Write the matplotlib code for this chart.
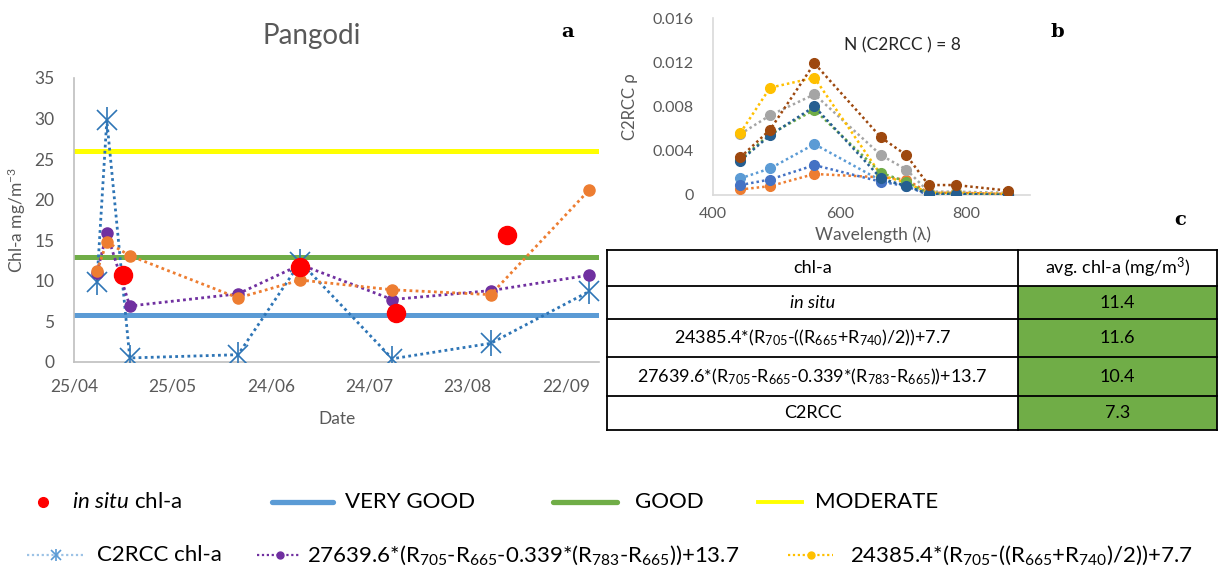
import matplotlib
matplotlib.use("Agg")
import matplotlib.pyplot as plt
import matplotlib.dates as mdates
from matplotlib.lines import Line2D
import numpy as np
import datetime as dt

plt.rcParams['font.family'] = ['Lato', 'DejaVu Sans']
plt.rcParams['mathtext.fontset'] = 'custom'
plt.rcParams['mathtext.rm'] = 'Lato'
plt.rcParams['mathtext.it'] = 'Lato:italic'
plt.rcParams['mathtext.bf'] = 'Lato:bold'

# ---------------- data: panel a ----------------
c2rcc_dates = ['2018-05-02', '2018-05-05', '2018-05-12', '2018-06-14',
               '2018-07-03', '2018-07-31', '2018-08-30', '2018-09-29']
c2rcc_chl = [9.9, 29.8, 0.5, 0.9, 12.3, 0.4, 2.3, 8.7]
alg2_chl = [11.0, 15.9, 6.9, 8.4, 12.0, 7.7, 8.8, 10.7]    # 27639.6*(...)+13.7
alg1_chl = [11.2, 14.8, 13.1, 7.9, 10.1, 8.9, 8.3, 21.2]   # 24385.4*(...)+7.7
insitu_dates = ['2018-05-10', '2018-07-03', '2018-08-01', '2018-09-04']
insitu_chl = [10.7, 11.7, 6.1, 15.7]
thr_very_good = 5.8
thr_good = 13.0
thr_moderate = 26.0
xtick_dates = ['2018-04-25', '2018-05-25', '2018-06-24', '2018-07-24', '2018-08-23', '2018-09-22']

# ---------------- data: panel b ----------------
wavelengths = [443, 490, 560, 665, 705, 740, 783, 865]
spec1 = [0.0015, 0.0024, 0.0046, 0.0013, 0.0009, 0.0001, 0.0001, 0.0000]
spec2 = [0.0005, 0.0008, 0.0019, 0.0016, 0.0014, 0.0002, 0.0002, 0.0001]
spec3 = [0.0055, 0.0072, 0.0091, 0.0036, 0.0023, 0.0003, 0.0003, 0.0002]
spec4 = [0.0056, 0.0097, 0.0106, 0.0018, 0.0011, 0.0002, 0.0002, 0.0001]
spec5 = [0.0009, 0.0014, 0.0027, 0.0012, 0.0008, 0.0000, 0.0000, 0.0000]
spec6 = [0.0032, 0.0055, 0.0077, 0.0020, 0.0012, 0.0001, 0.0001, 0.0000]
spec7 = [0.0031, 0.0054, 0.0080, 0.0015, 0.0008, 0.0001, 0.0001, 0.0000]
spec8 = [0.0034, 0.0059, 0.0119, 0.0052, 0.0036, 0.0009, 0.0009, 0.0004]
spec_colors = ['#5B9BD5', '#ED7D31', '#A5A5A5', '#FFC000',
               '#4472C4', '#70AD47', '#255E91', '#9E480E']

# ---------------- data: table c ----------------
f1 = r'24385.4*(R$_{705}$-((R$_{665}$+R$_{740}$)/2))+7.7'
f2 = r'27639.6*(R$_{705}$-R$_{665}$-0.339*(R$_{783}$-R$_{665}$))+13.7'
table_header = ['chl-a', r'avg. chl-a (mg/m$^{3}$)']
table_rows = ['in situ', f1, f2, 'C2RCC']
table_vals = ['11.4', '11.6', '10.4', '7.3']

GRAY = '#595959'
W, H = 1230, 572
fig = plt.figure(figsize=(W / 100, H / 100), dpi=100)


def fr(x0, y0, x1, y1):
    return [x0 / W, 1 - y1 / H, (x1 - x0) / W, (y1 - y0) / H]


# ---------------- panel a ----------------
ax = fig.add_axes(fr(74, 78, 599, 362))
to_dt = lambda s: dt.datetime.strptime(s, '%Y-%m-%d')
cd = [to_dt(s) for s in c2rcc_dates]
idd = [to_dt(s) for s in insitu_dates]
ax.axhline(thr_moderate, color='#FFFF00', lw=3.6, zorder=1)
ax.axhline(thr_good, color='#70AD47', lw=3.6, zorder=1)
ax.axhline(thr_very_good, color='#5B9BD5', lw=3.6, zorder=1)
dot = (0, (1, 1.2))
C2C = '#2E75B6'
ax.plot(cd, c2rcc_chl, color=C2C, ls=dot, lw=2, zorder=3)
ax.plot(cd, c2rcc_chl, color=C2C, ls='none', marker='x', ms=14, mew=1.2, zorder=3)
ax.plot(cd, c2rcc_chl, color=C2C, ls='none', marker='|', ms=19, mew=1.2, zorder=3)
ax.plot(cd, alg2_chl, color='#7030A0', ls=dot, lw=2,
        marker='o', ms=8, zorder=3)
ax.plot(cd, alg1_chl, color='#ED7D31', ls=dot, lw=2,
        marker='o', ms=8, zorder=3)
ax.plot(idd, insitu_chl, color='#FF0000', ls='none', marker='o', ms=13, zorder=4)
start = to_dt(xtick_dates[0])
ax.set_xlim(start, start + dt.timedelta(days=160))
ax.set_ylim(0, 35)
ax.set_yticks(np.arange(0, 36, 5))
ax.set_xticks([to_dt(s) for s in xtick_dates])
ax.xaxis.set_major_formatter(mdates.DateFormatter('%d/%m'))
for s in ['top', 'right']:
    ax.spines[s].set_visible(False)
for s in ['left', 'bottom']:
    ax.spines[s].set_color('#BFBFBF')
    ax.spines[s].set_linewidth(1.2)
ax.tick_params(length=0, labelsize=12.5, labelcolor=GRAY)
ax.tick_params(axis='y', pad=14)
ax.tick_params(axis='x', pad=12)
ax.set_xlabel('Date', fontsize=12.5, color=GRAY, labelpad=12)
ax.set_ylabel(r'Chl-a mg/m$^{-3}$', fontsize=12.5, color=GRAY)
ax.yaxis.set_label_coords((28 - 74) / 525, 0.5)
fig.text(312 / W, 1 - 36 / H, 'Pangodi', fontsize=20, color=GRAY, ha='center', va='center')
fig.text(568 / W, 1 - 32 / H, 'a', fontsize=14, fontweight='bold', family='DejaVu Serif',
         ha='center', va='center')

# ---------------- panel b ----------------
bx = fig.add_axes(fr(713, 18, 1030, 195))
for sp, c in zip([spec1, spec2, spec3, spec4, spec5, spec6, spec7, spec8], spec_colors):
    bx.plot(wavelengths, sp, color=c, ls=dot, lw=1.8, marker='o', ms=7, zorder=3)
bx.set_xlim(400, 900)
bx.set_ylim(0, 0.016)
bx.set_xticks([400, 600, 800])
bx.set_yticks([0, 0.004, 0.008, 0.012, 0.016])
bx.set_yticklabels(['0', '0.004', '0.008', '0.012', '0.016'])
for s in ['top', 'right']:
    bx.spines[s].set_visible(False)
for s in ['left', 'bottom']:
    bx.spines[s].set_color('#D9D9D9')
    bx.spines[s].set_linewidth(1.2)
bx.tick_params(length=0, labelsize=11.5, labelcolor=GRAY)
bx.tick_params(axis='y', pad=14)
bx.tick_params(axis='x', pad=9)
bx.set_xlabel('Wavelength (λ)', fontsize=12.5, color=GRAY)
bx.xaxis.set_label_coords((873 - 713) / 317, -(226 - 195) / 177)
bx.set_ylabel('C2RCC ρ', fontsize=12, color=GRAY, labelpad=10)
fig.text(902 / W, 1 - 45 / H, 'N (C2RCC ) = 8', fontsize=12.5, color='#262626',
         ha='center', va='center')
fig.text(1057 / W, 1 - 32 / H, 'b', fontsize=14, fontweight='bold', family='DejaVu Serif',
         ha='center', va='center')
fig.text(1180 / W, 1 - 220 / H, 'c', fontsize=14, fontweight='bold', family='DejaVu Serif',
         ha='center', va='center')

# ---------------- overlay for table and legend ----------------
ov = fig.add_axes([0, 0, 1, 1], facecolor='none')
ov.set_xlim(0, W)
ov.set_ylim(H, 0)
ov.axis('off')

# table c
col_x = [607, 1018, 1217]
row_y = [250, 286, 319, 357, 396, 430]
for i in range(len(table_vals)):
    ov.add_patch(plt.Rectangle((col_x[1], row_y[i + 1]), col_x[2] - col_x[1],
                               row_y[i + 2] - row_y[i + 1], facecolor='#70AD47',
                               edgecolor='none', zorder=1))
for yv in row_y:
    ov.plot([col_x[0], col_x[2]], [yv, yv], color='black', lw=1.3, zorder=2)
for xv in col_x:
    ov.plot([xv, xv], [row_y[0], row_y[-1]], color='black', lw=1.3, zorder=2)
tfs = 13
ov.text((col_x[0] + col_x[1]) / 2, (row_y[0] + row_y[1]) / 2, table_header[0],
        fontsize=tfs, ha='center', va='center', color='black')
ov.text((col_x[1] + col_x[2]) / 2, (row_y[0] + row_y[1]) / 2, table_header[1],
        fontsize=tfs, ha='center', va='center', color='black')
for i, (lab, val) in enumerate(zip(table_rows, table_vals)):
    yc = (row_y[i + 1] + row_y[i + 2]) / 2
    ov.text((col_x[0] + col_x[1]) / 2, yc, lab, fontsize=tfs, ha='center', va='center',
            color='black', style='italic' if i == 0 else 'normal')
    ov.text((col_x[1] + col_x[2]) / 2, yc, val, fontsize=tfs, ha='center', va='center',
            color='black')

# legend
lfs = 16
r1, r2 = 502, 555
ov.add_line(Line2D([43], [r1], marker='o', color='#FF0000', ms=7, ls='none'))
ov.text(72, r1, r'$\mathit{in\ situ}$ chl-a', fontsize=lfs, va='center', ha='left')
ov.add_line(Line2D([272, 333], [r1, r1], color='#5B9BD5', lw=3.8, solid_capstyle='round'))
ov.text(345, r1, 'VERY GOOD', fontsize=lfs, va='center', ha='left')
ov.add_line(Line2D([553, 617], [r1, r1], color='#70AD47', lw=3.8, solid_capstyle='round'))
ov.text(635, r1, 'GOOD', fontsize=lfs, va='center', ha='left')
ov.add_line(Line2D([758, 802], [r1, r1], color='#FFFF00', lw=2.8))
ov.text(815, r1, 'MODERATE', fontsize=lfs, va='center', ha='left')

ov.add_line(Line2D([27, 85], [r2, r2], color='#9DC3E6', lw=1.6, ls=dot))
ov.add_line(Line2D([56], [r2], color='#5B9BD5', marker='x', ms=7, mew=1.2, ls='none'))
ov.add_line(Line2D([56], [r2], color='#5B9BD5', marker='|', ms=9, mew=1.2, ls='none'))
ov.text(97, r2, 'C2RCC chl-a', fontsize=lfs, va='center', ha='left')
ov.add_line(Line2D([257, 300], [r2, r2], color='#7030A0', lw=1.6, ls=dot))
ov.add_line(Line2D([280], [r2], color='#7030A0', marker='o', ms=5, ls='none'))
ov.text(307, r2, f2, fontsize=lfs, va='center', ha='left')
ov.add_line(Line2D([788, 833], [r2, r2], color='#FFC000', lw=1.6, ls=dot))
ov.add_line(Line2D([811], [r2], color='#FFC000', marker='o', ms=5, ls='none'))
ov.text(850, r2, f1, fontsize=lfs, va='center', ha='left')

fig.savefig('out.png', dpi=100)
